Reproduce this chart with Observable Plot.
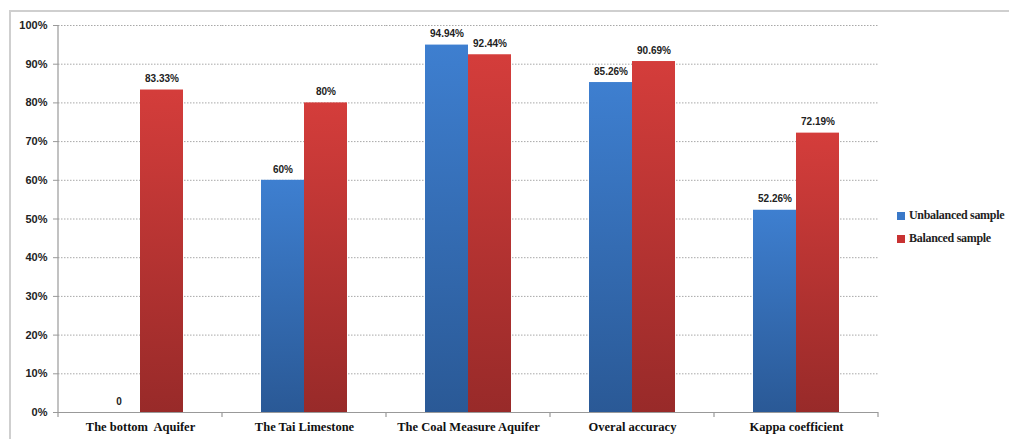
<!DOCTYPE html>
<html><head><meta charset="utf-8">
<script src="https://cdn.jsdelivr.net/npm/d3@7"></script>
<script src="https://cdn.jsdelivr.net/npm/@observablehq/plot@0.6"></script>
<style>
body{margin:0;background:#fff;}
#wrap{position:relative;width:1009px;height:439px;overflow:hidden;}
#border{position:absolute;left:9px;top:10px;width:1010px;height:440px;border-top:2px solid #cfcfcf;border-left:2px solid #cfcfcf;pointer-events:none;}
#legend{position:absolute;left:897px;top:204px;font-family:"Liberation Serif",serif;font-size:12px;font-weight:bold;color:#222;white-space:nowrap;letter-spacing:-0.3px;}
#legend div{display:flex;align-items:center;height:23px;}
#legend span.sw{display:inline-block;width:8px;height:8px;margin-right:4px;}
</style></head>
<body><div id="wrap"><div id="border"></div><div id="legend"></div></div>
<script>
const categories = ["The bottom  Aquifer","The Tai Limestone","The Coal Measure Aquifer","Overal accuracy","Kappa coefficient"];
const seriesNames = ["Unbalanced sample","Balanced sample"];
const unbalanced = [0, 60, 94.94, 85.26, 52.26];
const balanced = [83.33, 80, 92.44, 90.69, 72.19];
const yTicks = [0,10,20,30,40,50,60,70,80,90,100];
const legendColors = ["#3a78c8","#c83232"];

const data = [];
categories.forEach((c,i)=>{
  data.push({cat:c, series:seriesNames[0], value:unbalanced[i]});
  data.push({cat:c, series:seriesNames[1], value:balanced[i]});
});
const fmt = v => v === 0 ? "0" : v + "%";

const plot = Plot.plot({
  width:1009, height:439,
  marginLeft:57, marginRight:130, marginTop:25, marginBottom:27,
  style:{background:"transparent", fontFamily:"'Liberation Sans',Arial,sans-serif"},
  fx:{domain:categories, padding:0, label:null, axis:null},
  x:{domain:seriesNames, paddingInner:0, paddingOuter:0.864, axis:null},
  y:{domain:[0,100], label:null},
  marks:[
    Plot.ruleY(yTicks.slice(1), {stroke:"#a8a8a8", strokeDasharray:"1.5,1.5", strokeWidth:1}),
    Plot.axisY({ticks:yTicks, tickFormat:d=>d+"%", tickSize:5, tickPadding:6, fontSize:11, fontWeight:"bold", stroke:"#999", fill:"#222", label:null}),
    Plot.axisFx({anchor:"bottom", tickSize:0, tickPadding:10, fontSize:12.5, fontWeight:"bold", fontFamily:"'Liberation Serif',serif", fill:"#111", label:null}),
    Plot.barY(data.filter(d=>d.series===seriesNames[0]), {fx:"cat", x:"series", y:"value", fill:"url(#gBlue)", inset:0}),
    Plot.barY(data.filter(d=>d.series===seriesNames[1]), {fx:"cat", x:"series", y:"value", fill:"url(#gRed)", inset:0}),
    Plot.ruleY([0], {stroke:"#999", strokeWidth:1.2}),
    Plot.text(data, {fx:"cat", x:"series", y:"value", text:d=>fmt(d.value), dy:-11, fontSize:10, fontWeight:"bold", fill:"#222"})
  ]
});

const svg = d3.select(plot);
const defs = svg.insert("defs", ":first-child");
function grad(id, top, bottom){
  const g = defs.append("linearGradient").attr("id", id).attr("x1",0).attr("y1",0).attr("x2",0).attr("y2",1);
  g.append("stop").attr("offset","0%").attr("stop-color",top);
  g.append("stop").attr("offset","100%").attr("stop-color",bottom);
}
grad("gBlue","#3e7fd0","#2a5996");
grad("gRed","#d43d3b","#982a29");

const fx = plot.scale("fx");
const y = plot.scale("y");
const bounds = categories.map(c=>fx.apply(c));
bounds.push(fx.apply(categories[categories.length-1]) + fx.bandwidth);
const y0 = y.apply(0), y100 = y.apply(100);
const g = svg.append("g").attr("stroke","#999").attr("stroke-width",1.2);
g.append("line").attr("x1",bounds[0]).attr("x2",bounds[0]).attr("y1",y100).attr("y2",y0);
bounds.forEach(b=>g.append("line").attr("x1",b).attr("x2",b).attr("y1",y0).attr("y2",y0+5));

document.getElementById("wrap").prepend(plot);

const leg = document.getElementById("legend");
seriesNames.forEach((s,i)=>{
  const row = document.createElement("div");
  row.innerHTML = `<span class="sw" style="background:${legendColors[i]}"></span>${s}`;
  leg.appendChild(row);
});
</script>
</body></html>
